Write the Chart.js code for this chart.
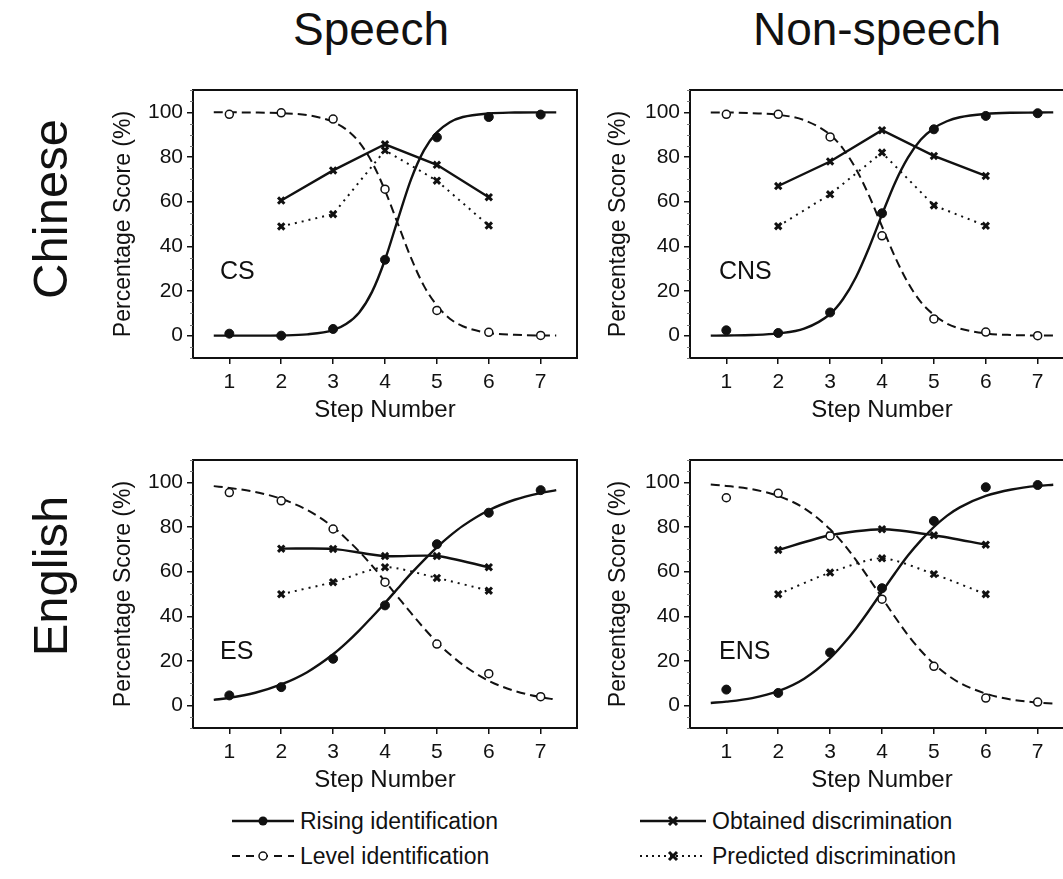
<!DOCTYPE html>
<html>
<head>
<meta charset="utf-8">
<title>Identification and discrimination functions</title>
<script src="https://cdn.jsdelivr.net/npm/chart.js@4.4.1/dist/chart.umd.min.js"></script>
<style>
  html, body { margin: 0; padding: 0; background: #fff; }
  body {
    width: 1063px; height: 879px; overflow: hidden; position: relative;
    font-family: "Liberation Sans", Arial, Helvetica, sans-serif; color: #111;
  }
  .col-title {
    position: absolute; top: 6px; font-size: 46px; line-height: 1;
    transform: translateX(-50%); white-space: nowrap;
  }
  .row-title {
    position: absolute; font-size: 49px; line-height: 1; white-space: nowrap;
    transform: translate(-50%, -50%) rotate(-90deg);
  }
  canvas.panel { position: absolute; }
  .legend-item {
    position: absolute; height: 20px; display: flex; align-items: center;
    font-size: 23px; line-height: 1; white-space: nowrap;
  }
  .legend-item svg { margin-right: 6px; flex: none; }
</style>
</head>
<body>

<div class="col-title" style="left:371px">Speech</div>
<div class="col-title" style="left:877px">Non-speech</div>
<div class="row-title" style="left:50px; top:209px">Chinese</div>
<div class="row-title" style="left:50px; top:576px">English</div>

<canvas id="panel-cs"  class="panel" style="left:90px;  top:60px"  width="497" height="365"></canvas>
<canvas id="panel-cns" class="panel" style="left:585px; top:60px"  width="499" height="365"></canvas>
<canvas id="panel-es"  class="panel" style="left:90px;  top:430px" width="497" height="365"></canvas>
<canvas id="panel-ens" class="panel" style="left:585px; top:430px" width="499" height="365"></canvas>

<div class="legend-item" style="left:232px; top:811px">
  <svg width="62" height="14"><line x1="0" y1="7" x2="62" y2="7" stroke="#111" stroke-width="2.4"/><circle cx="31" cy="7" r="4.5" fill="#111"/></svg>
  <span>Rising identification</span>
</div>
<div class="legend-item" style="left:232px; top:846px">
  <svg width="62" height="14"><line x1="0" y1="7" x2="62" y2="7" stroke="#111" stroke-width="2" stroke-dasharray="8 6"/><circle cx="31" cy="7" r="4" fill="#fff" stroke="#111" stroke-width="1.5"/></svg>
  <span>Level identification</span>
</div>
<div class="legend-item" style="left:640px; top:811px">
  <svg width="66" height="14"><line x1="0" y1="7" x2="66" y2="7" stroke="#111" stroke-width="2.4"/><path d="M29 3 L37 11 M37 3 L29 11" stroke="#111" stroke-width="3"/></svg>
  <span>Obtained discrimination</span>
</div>
<div class="legend-item" style="left:640px; top:846px">
  <svg width="66" height="14"><line x1="0" y1="7" x2="66" y2="7" stroke="#111" stroke-width="2" stroke-dasharray="2 4"/><path d="M29 3 L37 11 M37 3 L29 11" stroke="#111" stroke-width="3"/></svg>
  <span>Predicted discrimination</span>
</div>

<script>
// ---- Data -------------------------------------------------------------
// Continuum steps, y-axis tick values
const stepLabels = [1, 2, 3, 4, 5, 6, 7];
const discSteps  = [2, 3, 4, 5, 6];
const yTickValues = [0, 20, 40, 60, 80, 100];
// Steps at which the fitted identification curves are sampled
const fitSteps = [0.7, 1, 1.5, 2, 2.5, 3, 3.25, 3.5, 3.75, 4, 4.25, 4.5, 4.75, 5, 5.25, 5.5, 6, 6.5, 7, 7.3];

// Chinese listeners, speech (CS)
const csRising     = [0.9, 0, 3, 34, 88.8, 97.9, 99];
const csLevel      = [99.1, 99.8, 97, 65.6, 11.3, 1.5, 0.1];
const csObtained   = [60.5, 74, 85.7, 76.5, 62];
const csPredicted  = [48.9, 54.4, 83, 69.4, 49.3];
const csRisingFit  = [0, 0, 0, 0.1, 0.6, 2.5, 5.2, 10.3, 19.6, 34, 52.2, 69.9, 83, 91, 95.6, 97.9, 99.5, 99.9, 100, 100];
const csLevelFit   = [100, 100, 99.9, 99.6, 98.8, 95.7, 92.4, 86.7, 77.7, 65, 50, 34.9, 22.3, 13.5, 7.6, 4.2, 1.2, 0.4, 0.1, 0.1];

// Chinese listeners, non-speech (CNS)
const cnsRising    = [2.4, 1.2, 10.4, 54.8, 92.4, 98.4, 99.6];
const cnsLevel     = [99.1, 99.1, 89, 44.7, 7.5, 1.6, 0];
const cnsObtained  = [67, 78, 92, 80.5, 71.5];
const cnsPredicted = [49, 63.3, 82, 58.3, 49.2];
const cnsRisingFit = [0, 0.1, 0.3, 1, 3.1, 9.7, 16.4, 26.3, 39.4, 54.2, 68.4, 79.7, 87.8, 92.9, 96, 97.8, 99.3, 99.8, 99.9, 100];
const cnsLevelFit  = [99.9, 99.9, 99.6, 98.9, 96.5, 90, 83.7, 74.6, 62.7, 48.9, 35.3, 23.7, 15, 9.3, 5.4, 3.2, 1, 0.3, 0.1, 0.1];

// English listeners, speech (ES)
const esRising     = [4.6, 8.3, 21, 44.9, 72.3, 86.4, 96.5];
const esLevel      = [95.4, 91.7, 79.1, 55.3, 27.6, 14.3, 4];
const esObtained   = [70.3, 70.2, 67, 67, 62];
const esPredicted  = [49.9, 55.3, 62, 57.2, 51.5];
const esRisingFit  = [2.6, 3.5, 5.8, 9.5, 15, 23, 28, 33.6, 39.7, 46, 52.6, 59.1, 65.2, 70.9, 76, 80.5, 87.5, 92.2, 95.2, 96.5];
const esLevelFit   = [98.3, 97.5, 95.7, 92.6, 87.6, 80, 74.8, 69.1, 62.7, 55.7, 48.6, 41.5, 34.7, 28.4, 23, 18.3, 11.1, 6.6, 3.8, 2.7];

// English listeners, non-speech (ENS)
const ensRising    = [7.2, 5.7, 23.8, 52.6, 82.7, 97.8, 98.8];
const ensLevel     = [93.1, 95.1, 76, 47.7, 17.6, 3.4, 1.6];
const ensObtained  = [69.7, 76.3, 79, 76.3, 72.1];
const ensPredicted = [49.9, 59.6, 66, 58.9, 49.9];
const ensRisingFit = [1.2, 1.8, 3.4, 6.5, 12.1, 21.3, 27.5, 34.6, 42.6, 51, 59.3, 67.2, 74, 80, 85, 88.8, 93.9, 96.8, 98.4, 98.9];
const ensLevelFit  = [99, 98.4, 96.9, 93.9, 88.4, 79, 72.7, 65.2, 56.9, 48.3, 39.7, 31.6, 24.6, 18.7, 13.9, 10.2, 5.4, 2.7, 1.4, 0.9];

// ---- Drawing ----------------------------------------------------------
const INK = '#111111';
Chart.defaults.font.family = '"Liberation Sans", Arial, Helvetica, sans-serif';
Chart.defaults.color = INK;

const pairs = (xs, ys) => xs.map((x, i) => ({ x: x, y: ys[i] }));

// Box frame around the plot area, minor y ticks and the panel tag
const framePlugin = {
  id: 'panelFrame',
  afterDraw(chart, args, opts) {
    const { ctx, chartArea: a, scales } = chart;
    const y = scales.y;
    ctx.save();
    ctx.strokeStyle = INK;
    ctx.lineWidth = 2;
    ctx.strokeRect(a.left, a.top, a.right - a.left, a.bottom - a.top);
    ctx.lineWidth = 1;
    ctx.strokeStyle = '#777';
    for (let v = -10; v <= 110; v += 5) {
      if (v % 20 === 0) continue;
      const py = Math.round(y.getPixelForValue(v)) + 0.5;
      ctx.beginPath();
      ctx.moveTo(a.left - 3, py);
      ctx.lineTo(a.left, py);
      ctx.stroke();
    }
    ctx.fillStyle = INK;
    ctx.font = '25px "Liberation Sans", Arial, sans-serif';
    ctx.textBaseline = 'alphabetic';
    ctx.fillText(opts.tag, a.left + opts.tagDx, a.top + opts.tagDy);
    ctx.restore();
  }
};

function buildPanel(id, p) {
  const datasets = [
    {
      label: 'Rising identification (fit)',
      data: pairs(fitSteps, p.risingFit),
      showLine: true, borderColor: INK, borderWidth: 2.4,
      pointRadius: 0, cubicInterpolationMode: 'monotone', order: 5
    },
    {
      label: 'Level identification (fit)',
      data: pairs(fitSteps, p.levelFit),
      showLine: true, borderColor: INK, borderWidth: 2, borderDash: [9, 5],
      pointRadius: 0, cubicInterpolationMode: 'monotone', order: 5
    },
    {
      label: 'Obtained discrimination',
      data: pairs(discSteps, p.obtained),
      showLine: true, borderColor: INK, borderWidth: 2.4, tension: p.discTension,
      pointStyle: 'crossRot', pointRadius: 4.5, pointBorderWidth: 3,
      pointBorderColor: INK, pointBackgroundColor: INK, order: 3
    },
    {
      label: 'Predicted discrimination',
      data: pairs(discSteps, p.predicted),
      showLine: true, borderColor: INK, borderWidth: 2, borderDash: [2, 5], tension: p.discTension,
      pointStyle: 'crossRot', pointRadius: 4.5, pointBorderWidth: 3,
      pointBorderColor: INK, pointBackgroundColor: INK, order: 3
    },
    {
      label: 'Rising identification',
      data: pairs(stepLabels, p.rising),
      showLine: false, pointStyle: 'circle', pointRadius: 4.5,
      pointBackgroundColor: INK, pointBorderColor: INK, pointBorderWidth: 1, order: 1
    },
    {
      label: 'Level identification',
      data: pairs(stepLabels, p.level),
      showLine: false, pointStyle: 'circle', pointRadius: 4,
      pointBackgroundColor: '#fff', pointBorderColor: INK, pointBorderWidth: 1.5, order: 1
    }
  ];

  return new Chart(document.getElementById(id), {
    type: 'scatter',
    data: { datasets: datasets },
    plugins: [framePlugin],
    options: {
      responsive: false,
      animation: false,
      devicePixelRatio: 1,
      layout: { padding: { top: 30, right: 10, left: 0, bottom: 0 } },
      plugins: {
        legend: { display: false },
        tooltip: { enabled: false },
        panelFrame: { tag: p.tag, tagDx: p.tagDx, tagDy: p.tagDy }
      },
      scales: {
        x: {
          type: 'linear', min: 0.3, max: 7.7,
          afterBuildTicks: s => { s.ticks = stepLabels.map(v => ({ value: v })); },
          afterFit: s => { s.height = 67; },
          border: { display: false },
          grid: { drawOnChartArea: false, drawTicks: true, tickLength: 6, color: INK, lineWidth: 1.5 },
          ticks: { font: { size: 21 }, color: INK, padding: 6, maxRotation: 0, autoSkip: false },
          title: { display: true, text: 'Step Number', font: { size: 24 }, color: INK, padding: { top: 0, bottom: 0 } }
        },
        y: {
          type: 'linear', min: -10, max: 110,
          afterBuildTicks: s => { s.ticks = yTickValues.map(v => ({ value: v })); },
          afterFit: s => { s.width = p.yAxisWidth; },
          border: { display: false },
          grid: { drawOnChartArea: false, drawTicks: true, tickLength: 6, color: INK, lineWidth: 1.5 },
          ticks: { font: { size: 21 }, color: INK, padding: 4 },
          title: { display: true, text: 'Percentage Score (%)', font: { size: 23 }, color: INK, padding: { top: 20, bottom: 0 } }
        }
      }
    }
  });
}

buildPanel('panel-cs', {
  tag: 'CS', tagDx: 27, tagDy: 189, yAxisWidth: 103, discTension: 0,
  rising: csRising, level: csLevel, obtained: csObtained, predicted: csPredicted,
  risingFit: csRisingFit, levelFit: csLevelFit
});
buildPanel('panel-cns', {
  tag: 'CNS', tagDx: 29, tagDy: 189, yAxisWidth: 105, discTension: 0,
  rising: cnsRising, level: cnsLevel, obtained: cnsObtained, predicted: cnsPredicted,
  risingFit: cnsRisingFit, levelFit: cnsLevelFit
});
buildPanel('panel-es', {
  tag: 'ES', tagDx: 27, tagDy: 199, yAxisWidth: 103, discTension: 0.25,
  rising: esRising, level: esLevel, obtained: esObtained, predicted: esPredicted,
  risingFit: esRisingFit, levelFit: esLevelFit
});
buildPanel('panel-ens', {
  tag: 'ENS', tagDx: 29, tagDy: 199, yAxisWidth: 105, discTension: 0.25,
  rising: ensRising, level: ensLevel, obtained: ensObtained, predicted: ensPredicted,
  risingFit: ensRisingFit, levelFit: ensLevelFit
});
</script>
</body>
</html>
